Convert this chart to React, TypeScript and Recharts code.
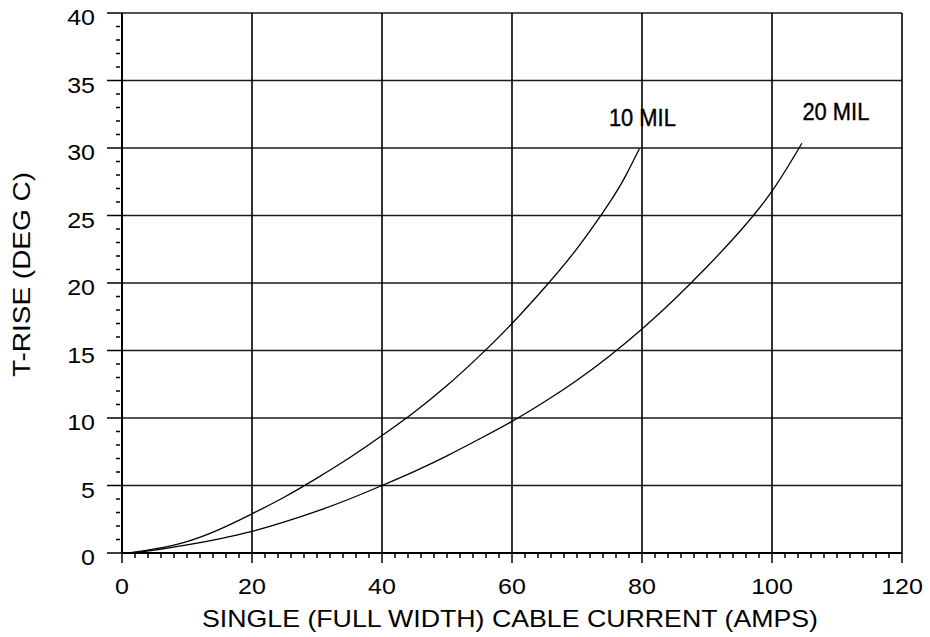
import React from 'react';
import {
    LineChart,
    Line,
    XAxis,
    YAxis,
    ReferenceLine,
} from 'recharts';

// Curves: current (amps) vs temperature rise (deg C)
const mil10Amps = [1, 5, 10, 15, 20, 25, 30, 35, 40, 45, 50, 55, 60, 65, 70, 75, 77.5, 79.6];
const mil10Rise = [0, 0.3, 0.85, 1.75, 2.9, 4.15, 5.55, 7.05, 8.7, 10.45, 12.4, 14.6, 17.0, 19.65, 22.55, 25.95, 27.95, 29.95];

const mil20Amps = [1, 5, 10, 15, 20, 25, 30, 35, 40, 45, 50, 55, 60, 65, 70, 75, 80, 85, 90, 95, 100, 104.6];
const mil20Rise = [0, 0.22, 0.6, 1.05, 1.6, 2.3, 3.1, 4.0, 5.0, 6.05, 7.2, 8.45, 9.75, 11.2, 12.8, 14.6, 16.6, 18.8, 21.2, 23.8, 26.8, 30.35];

const seriesNames = ['10 MIL', '20 MIL'];

const xMajorTicks = [0, 20, 40, 60, 80, 100, 120];
const yMajorTicks = [0, 5, 10, 15, 20, 25, 30, 35, 40];
const xAllTicks = Array.from({ length: 61 }, (_, i) => i * 2);
const yAllTicks = Array.from({ length: 41 }, (_, i) => i);

const xTitle = 'SINGLE (FULL WIDTH) CABLE CURRENT (AMPS)';
const yTitle = 'T-RISE (DEG C)';

const FONT = "'Liberation Sans', Arial, Helvetica, sans-serif";
const NARROW = "'Liberation Sans Narrow', 'Liberation Sans', Arial, sans-serif";

const toRows = (amps: number[], rise: number[]) => amps.map((a, i) => ({ amps: a, rise: rise[i] }));

const XTick = ({ x, y, payload }: any) => {
    const v = payload.value;
    const major = v % 20 === 0;
    const label = String(v);
    return (
        <g>
            <line x1={x} y1={y} x2={x} y2={y + (major ? 10 : 5)} stroke="#000" strokeWidth={1.5} />
            {major && (
                <text x={x} y={y + 41} textAnchor="middle" fontFamily={FONT} fontSize={22} fill="#000"
                    textLength={label.length * 13.9} lengthAdjust="spacingAndGlyphs">
                    {label}
                </text>
            )}
        </g>
    );
};

const YTick = ({ x, y, payload }: any) => {
    const v = payload.value;
    const major = v % 5 === 0;
    const label = String(v);
    return (
        <g>
            {major
                ? <line x1={x - 15} y1={y} x2={x} y2={y} stroke="#000" strokeWidth={1.5} />
                : <line x1={x - 6} y1={y} x2={x - 2} y2={y} stroke="#000" strokeWidth={1.5} />}
            {major && (
                <text x={x - 27} y={y + 12} textAnchor="end" fontFamily={FONT} fontSize={22} fill="#000"
                    textLength={label.length * 13.9} lengthAdjust="spacingAndGlyphs">
                    {label}
                </text>
            )}
        </g>
    );
};

const XTitle = ({ viewBox }: any) => (
    <text x={viewBox.x + 80} y={viewBox.y + 74} fontFamily={FONT} fontSize={24} fill="#000"
        textLength={616} lengthAdjust="spacingAndGlyphs">
        {xTitle}
    </text>
);

const YTitle = ({ viewBox }: any) => {
    const cx = 29.5;
    const cy = viewBox.y + 364;
    return (
        <text x={cx} y={cy} transform={`rotate(-90, ${cx}, ${cy})`} fontFamily={FONT} fontSize={24} fill="#000"
            textLength={205} lengthAdjust="spacingAndGlyphs">
            {yTitle}
        </text>
    );
};

// name label drawn just above the last point of a curve
const endLabel = (name: string, count: number, dx: number) => (props: any) => {
    if (props.index !== count - 1) return null;
    return (
        <text x={props.x + dx} y={props.y - 23} textAnchor="middle" fontFamily={NARROW} fontSize={24} fill="#000"
            stroke="#000" strokeWidth={0.4}
            textLength={67} lengthAdjust="spacingAndGlyphs">
            {name}
        </text>
    );
};

export default function App() {
    return (
        <div style={{ position: 'absolute', left: 0, top: 0, width: 930, height: 637, background: '#fff' }}>
            <LineChart width={930} height={637} margin={{ top: 13, right: 28, bottom: 54, left: 0 }}>
                <XAxis
                    type="number"
                    dataKey="amps"
                    domain={[0, 120]}
                    ticks={xAllTicks}
                    interval={0}
                    height={30}
                    tickSize={0}
                    tickMargin={0}
                    tickLine={false}
                    tick={<XTick />}
                    axisLine={{ stroke: '#000', strokeWidth: 2 }}
                    label={<XTitle />}
                />
                <YAxis
                    type="number"
                    domain={[0, 40]}
                    ticks={yAllTicks}
                    interval={0}
                    width={122}
                    tickSize={0}
                    tickMargin={0}
                    tickLine={false}
                    tick={<YTick />}
                    axisLine={{ stroke: '#000', strokeWidth: 2 }}
                    label={<YTitle />}
                />
                {yMajorTicks.map(t => (
                    <ReferenceLine key={`h${t}`} y={t} stroke="#1a1a1a" strokeWidth={1.6} />
                ))}
                {xMajorTicks.map(t => (
                    <ReferenceLine key={`v${t}`} x={t} stroke="#000" strokeWidth={1.6} />
                ))}
                <Line
                    data={toRows(mil10Amps, mil10Rise)}
                    dataKey="rise"
                    type="natural"
                    stroke="#000"
                    strokeWidth={1.3}
                    dot={false}
                    activeDot={false}
                    isAnimationActive={false}
                    label={endLabel(seriesNames[0], mil10Amps.length, 3)}
                />
                <Line
                    data={toRows(mil20Amps, mil20Rise)}
                    dataKey="rise"
                    type="natural"
                    stroke="#000"
                    strokeWidth={1.3}
                    dot={false}
                    activeDot={false}
                    isAnimationActive={false}
                    label={endLabel(seriesNames[1], mil20Amps.length, 34)}
                />
            </LineChart>
        </div>
    );
}
